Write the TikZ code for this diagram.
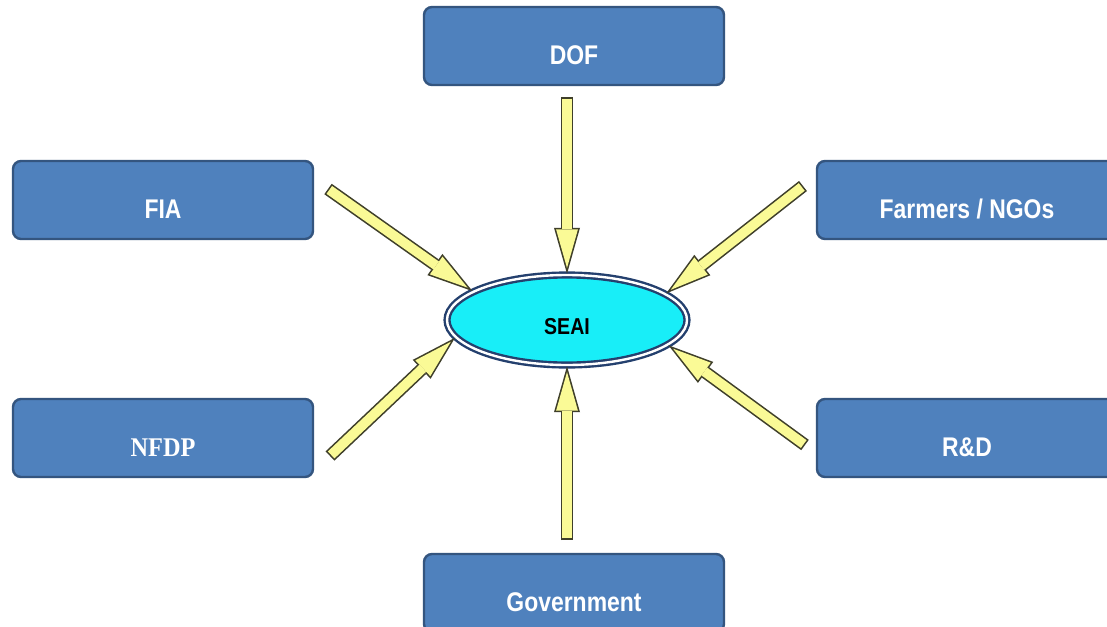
\documentclass[tikz,border=0pt]{standalone}
\usepackage{fontspec}
\setmainfont{Liberation Serif}
\newfontfamily\boxfont[FakeStretch=0.85]{Liberation Sans}
\newfontfamily\nfdpfont[FakeStretch=0.9]{Liberation Serif}
\usetikzlibrary{arrows.meta}
\usetikzlibrary{shapes.geometric}

\definecolor{boxblue}{HTML}{4F81BD}
\definecolor{boxedge}{HTML}{34557F}
\definecolor{arrowfill}{HTML}{FAFA96}
\definecolor{arrowedge}{HTML}{3F3F2A}
\definecolor{hubcyan}{HTML}{18EEF8}
\definecolor{hubedge}{HTML}{24406E}

\tikzset{
	actor/.style={draw=boxedge, line width=1.2pt, fill=boxblue, rounded corners=4pt,
		minimum width=150pt, minimum height=39pt, text=white,
		font=\boxfont\bfseries\fontsize{13.5}{14}\selectfont,
		text height=18.5pt, text depth=0pt},
	hub/.style={ellipse, draw=hubedge, line width=1.2pt, double=white, double distance=1.2pt,
		fill=hubcyan, minimum width=120pt, minimum height=45pt,
		font=\boxfont\bfseries\fontsize{11.5}{12}\selectfont,
		text height=14.5pt, text depth=0pt}
}

% block arrow: dark outline first, yellow body on top
\newcommand{\feedarrow}[2]{%
	\draw[arrowedge, line width=6.4pt, -{Triangle[length=23pt,width=13pt,line width=0pt]}] (#1) -- (#2);
	\draw[arrowfill, line width=4.8pt, shorten <=0.8pt, shorten >=2.94pt,
		-{Triangle[length=19.26pt,width=10.9pt,line width=0pt]}] (#1) -- (#2);
}

\begin{document}
\begin{tikzpicture}[x=0.5pt,y=-0.5pt]
		\useasboundingbox (0,0) rectangle (1107,626);
		\clip (0,0) rectangle (1107,626);
		\fill[white] (0,0) rectangle (1107,626);

		\node[actor] (dof) at (574,46) {DOF};
		\node[actor] (fia) at (163,200) {FIA};
		\node[actor] (farmers) at (967,200) {Farmers / NGOs};
		\node[actor, font=\nfdpfont\bfseries\fontsize{13.5}{14}\selectfont] (nfdp) at (163,438) {NFDP};
		\node[actor] (rnd) at (967,438) {R\&D};
		\node[actor] (gov) at (574,593) {Government};

		\node[hub] (seai) at (567,320) {SEAI};

		\coordinate (doftail) at (567,97);
		\coordinate (fiatail) at (328,189);
		\coordinate (farmerstail) at (803,186);
		\coordinate (nfdptail) at (330,456);
		\coordinate (rndtail) at (805,445);
		\coordinate (govtail) at (567,540);

		\feedarrow{doftail}{seai.north}
		\feedarrow{fiatail}{seai.163.5}
		\feedarrow{farmerstail}{seai.15}
		\feedarrow{nfdptail}{seai.189.5}
		\feedarrow{rndtail}{seai.346}
		\feedarrow{govtail}{seai.south}
\end{tikzpicture}
\end{document}
